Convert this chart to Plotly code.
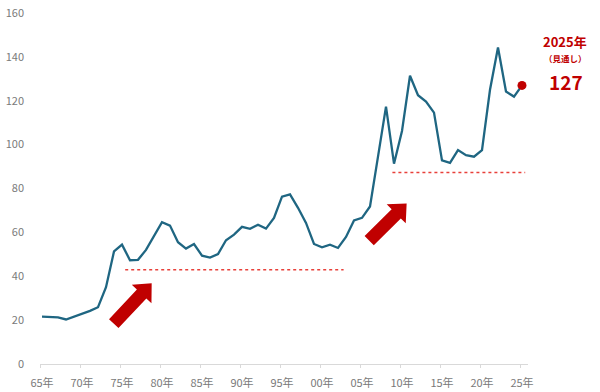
import plotly.graph_objects as go

# ---- data ----
years = list(range(1965, 2026))
values = [21.6, 21.6, 21.3, 20.3, 21.5, 22.7, 24.2, 25.9, 35.0, 51.3,
          54.4, 47.3, 47.5, 52.0, 58.0, 64.6, 63.1, 55.5, 52.6, 54.7,
          49.4, 48.5, 50.1, 56.4, 59.0, 62.5, 61.6, 63.5, 61.7, 66.6,
          76.3, 77.3, 71.2, 64.3, 54.7, 53.2, 54.4, 52.9, 57.9, 65.4,
          66.6, 71.8, 94.5, 117.3, 91.3, 106.2, 131.4, 122.5, 119.6, 114.6,
          92.8, 91.7, 97.5, 95.2, 94.5, 97.5, 125.0, 144.3, 124.2, 121.9,
          127.0]
tick_years = list(range(1965, 2030, 5))
tick_labels = ["65年", "70年", "75年", "80年", "85年", "90年", "95年",
               "00年", "05年", "10年", "15年", "20年", "25年"]
y_ticks = [0, 20, 40, 60, 80, 100, 120, 140, 160]

# reference levels (value, start year, end year)
levels = [(43.0, 1975.4, 2002.7), (87.3, 2008.8, 2025.4)]
# arrows: (tail year, tail value, tip year, tip value)
arrows = [(1973.97, 18.4, 1978.71, 36.8), (2005.9, 56.2, 2010.58, 73.2)]

last_label_year = "2025年"
last_label_note = "（見通し）"

# ---- layout geometry ----
W, H = 600, 392
ml, mr, mt, mb = 40, 72, 13, 28
xr = [1964.75, 2025.75]
yr = [0, 160]
pw, ph = W - ml - mr, H - mt - mb
sx = pw / (xr[1] - xr[0])
sy = ph / (yr[1] - yr[0])

RED = "#c00000"
LINE = "#1f6682"
GRAY = "#7a7a7a"
FONT = "Noto Sans CJK JP"

fig = go.Figure()
fig.add_trace(go.Scatter(x=years, y=values, mode="lines",
                         line=dict(color=LINE, width=2.3), hoverinfo="skip"))
fig.add_trace(go.Scatter(x=[years[-1]], y=[values[-1]], mode="markers",
                         marker=dict(color=RED, size=9), hoverinfo="skip"))

shapes = []
for v, x0, x1 in levels:
    shapes.append(dict(type="line", xref="x", yref="y", x0=x0, x1=x1, y0=v, y1=v,
                       line=dict(color="#e8403a", width=1.5, dash="dot")))


def to_px(x, y):
    return ((x - xr[0]) * sx, (y - yr[0]) * sy)


def to_data(px, py):
    return (xr[0] + px / sx, yr[0] + py / sy)


shaft_w, head_w, head_l = 13.0, 27.0, 14.7
for tx, tv, hx, hv in arrows:
    ax, ay = to_px(tx, tv)
    bx, by = to_px(hx, hv)
    dx, dy = bx - ax, by - ay
    L = (dx * dx + dy * dy) ** 0.5
    ux, uy = dx / L, dy / L
    nx, ny = -uy, ux
    cx, cy = bx - ux * head_l, by - uy * head_l
    pts = [
        (ax + nx * shaft_w / 2, ay + ny * shaft_w / 2),
        (cx + nx * shaft_w / 2, cy + ny * shaft_w / 2),
        (cx + nx * head_w / 2, cy + ny * head_w / 2),
        (bx, by),
        (cx - nx * head_w / 2, cy - ny * head_w / 2),
        (cx - nx * shaft_w / 2, cy - ny * shaft_w / 2),
        (ax - nx * shaft_w / 2, ay - ny * shaft_w / 2),
    ]
    dpts = [to_data(p[0], p[1]) for p in pts]
    path = "M " + " L ".join(f"{p[0]:.4f},{p[1]:.4f}" for p in dpts) + " Z"
    shapes.append(dict(type="path", xref="x", yref="y", path=path,
                       fillcolor=RED, line=dict(width=0)))

annotations = [
    dict(xref="paper", yref="paper", x=(565 - ml) / pw, y=(H - mb - 41) / ph,
         text=f"<b>{last_label_year}</b>", showarrow=False,
         font=dict(family=FONT, size=13, color=RED), xanchor="center", yanchor="middle"),
    dict(xref="paper", yref="paper", x=(565 - ml) / pw, y=(H - mb - 58) / ph,
         text=f"<b>{last_label_note}</b>", showarrow=False,
         font=dict(family=FONT, size=8.5, color=RED), xanchor="center", yanchor="middle"),
    dict(xref="paper", yref="paper", x=(566 - ml) / pw, y=(H - mb - 81) / ph,
         text=f"<b>{values[-1]:.0f}</b>", showarrow=False,
         font=dict(family=FONT, size=19, color=RED), xanchor="center", yanchor="middle"),
]

fig.update_layout(
    width=W, height=H,
    margin=dict(l=ml, r=mr, t=mt, b=mb, pad=0, autoexpand=False),
    paper_bgcolor="white", plot_bgcolor="white",
    showlegend=False,
    shapes=shapes, annotations=annotations,
    font=dict(family=FONT, size=11, color=GRAY),
    xaxis=dict(range=xr, tickmode="array", tickvals=tick_years, ticktext=tick_labels,
               automargin=False,
               showgrid=False, zeroline=False, showline=True, linecolor="#d9d9d9",
               linewidth=1, ticks="", ticklabelstandoff=9,
               tickfont=dict(family=FONT, size=11, color=GRAY),
               minor=dict(ticks="outside", tick0=1964.8, dtick=5, ticklen=3,
                          tickcolor="#d9d9d9", showgrid=False)),
    yaxis=dict(range=yr, tickmode="array", tickvals=y_ticks, automargin=False,
               showgrid=False, zeroline=False, showline=False, ticks="",
               ticklabelstandoff=15,
               tickfont=dict(family=FONT, size=11, color=GRAY)),
)

fig.write_html("out.html")
